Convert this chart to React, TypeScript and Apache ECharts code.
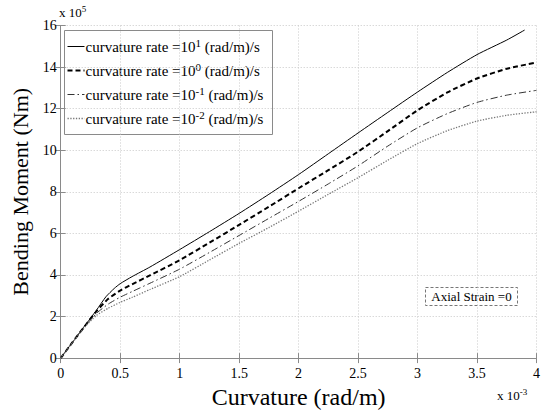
import React, { useEffect, useRef } from "react";
import * as echarts from "echarts";

// curvature in units of 1e-3 rad/m, moment in units of 1e5 Nm
const curvature = [0, 0.1, 0.2, 0.3, 0.4, 0.5, 0.6, 0.75, 1.0, 1.25, 1.5, 1.75, 2.0, 2.25, 2.5, 2.75, 3.0, 3.25, 3.5, 3.75, 4.0];
const curvatureSolid = [0, 0.1, 0.2, 0.3, 0.38, 0.45, 0.5, 0.6, 0.75, 1.0, 1.25, 1.5, 1.75, 2.0, 2.25, 2.5, 2.75, 3.0, 3.25, 3.5, 3.75, 3.9];

const rate1 = [0, 0.77, 1.54, 2.3, 2.95, 3.35, 3.58, 3.92, 4.38, 5.22, 6.08, 6.96, 7.88, 8.83, 9.83, 10.83, 11.82, 12.8, 13.74, 14.6, 15.3, 15.78];
const rate0 = [0, 0.77, 1.52, 2.25, 2.85, 3.25, 3.55, 3.98, 4.71, 5.55, 6.41, 7.28, 8.17, 9.04, 9.93, 10.92, 11.92, 12.78, 13.45, 13.92, 14.22];
const rateM1 = [0, 0.76, 1.5, 2.15, 2.6, 2.93, 3.2, 3.6, 4.28, 5.08, 5.9, 6.72, 7.54, 8.38, 9.25, 10.2, 11.08, 11.76, 12.3, 12.65, 12.88];
const rateM2 = [0, 0.75, 1.48, 2.05, 2.4, 2.68, 2.92, 3.3, 3.92, 4.72, 5.52, 6.28, 7.07, 7.88, 8.68, 9.52, 10.32, 10.94, 11.4, 11.68, 11.85];

const seriesNames = ["curvature rate =10^1 (rad/m)/s", "curvature rate =10^0 (rad/m)/s", "curvature rate =10^-1 (rad/m)/s", "curvature rate =10^-2 (rad/m)/s"];
const exponents = ["1", "0", "-1", "-2"];
const yTicks = [0, 2, 4, 6, 8, 10, 12, 14, 16];

const FONT = "'Liberation Serif', 'Times New Roman', serif";

export default function App() {
  const ref = useRef<HTMLDivElement>(null);
  useEffect(() => {
    if (!ref.current) return;
    const chart = echarts.init(ref.current, undefined, { renderer: "svg" });
    const pairs = (xs: number[], ys: number[]) => xs.map((x, i) => [x, ys[i]]);
    const axisGray = "#8a8a8a";
    const grid = { left: 60.7, right: 2.3, top: 25.5, bottom: 49.5 };
    const supRich = (size: number, supSize: number, raise: number) => ({
      t: { fontFamily: FONT, fontSize: size, color: "#000" },
      s: { fontFamily: FONT, fontSize: supSize, color: "#000", padding: [0, 0, raise, 0] },
    });
    const lineStyles = [
      { color: "#000", width: 1, type: "solid" as any },
      { color: "#000", width: 2, type: [5, 3] },
      { color: "#333", width: 1, type: [7, 3, 1.5, 3] },
      { color: "#777", width: 1.3, type: [1.3, 1.5] },
    ];
    const dashOf = (t: any) => (Array.isArray(t) ? t : null);
    const datasets = [
      pairs(curvatureSolid, rate1),
      pairs(curvature, rate0),
      pairs(curvature, rateM1),
      pairs(curvature, rateM2),
    ];
    const legendChildren: any[] = [
      {
        type: "rect",
        shape: { x: 0, y: 0, width: 208, height: 104 },
        style: { fill: "#fff", stroke: "#8a8a8a", lineWidth: 1 },
      },
    ];
    seriesNames.forEach((_, i) => {
      const cy = 16 + 24 * i;
      legendChildren.push({
        type: "line",
        shape: { x1: 3, y1: cy, x2: 20, y2: cy },
        style: {
          stroke: lineStyles[i].color,
          lineWidth: lineStyles[i].width,
          lineDash: dashOf(lineStyles[i].type),
        },
      });
      legendChildren.push({
        type: "text",
        x: 21,
        y: cy,
        style: {
          text: `{t|curvature rate =10}{s|${exponents[i]}}{t| (rad/m)/s}`,
          fontFamily: FONT,
          verticalAlign: "middle",
          rich: supRich(15, 11, 8),
        },
      });
    });
    chart.setOption({
      animation: false,
      backgroundColor: "#ffffff",
      textStyle: { fontFamily: FONT },
      grid,
      xAxis: [
        {
          type: "value",
          min: 0,
          max: 4,
          interval: 0.5,
          name: "Curvature (rad/m)",
          nameLocation: "middle",
          nameGap: 26,
          nameTextStyle: { fontFamily: FONT, fontSize: 24, color: "#000" },
          axisLine: { show: true, lineStyle: { color: axisGray, width: 1 } },
          axisTick: { show: true, inside: true, length: 5, lineStyle: { color: axisGray } },
          axisLabel: { fontFamily: FONT, fontSize: 14, color: "#000", margin: 8 },
          splitLine: { show: true, lineStyle: { color: "#c8c8c8", type: [1, 2], width: 1 } },
        },
        {
          type: "value",
          position: "top",
          min: 0,
          max: 4,
          interval: 0.5,
          axisLine: { show: true, lineStyle: { color: axisGray, width: 1 } },
          axisTick: { show: true, inside: true, length: 5, lineStyle: { color: axisGray } },
          axisLabel: { show: false },
          splitLine: { show: false },
        },
      ],
      yAxis: [
        {
          type: "value",
          min: 0,
          max: 16,
          interval: 2,
          name: "Bending Moment (Nm)",
          nameLocation: "middle",
          nameGap: 29,
          nameTextStyle: { fontFamily: FONT, fontSize: 22, color: "#000" },
          axisLine: { show: true, lineStyle: { color: axisGray, width: 1 } },
          axisTick: { show: true, inside: true, length: 5, lineStyle: { color: axisGray } },
          axisLabel: {
            fontFamily: FONT,
            fontSize: 14,
            color: "#000",
            margin: 4,
            formatter: (v: number) => (yTicks.includes(v) ? String(v) : ""),
          },
          splitLine: { show: true, lineStyle: { color: "#c8c8c8", type: [1, 2], width: 1 } },
        },
        {
          type: "value",
          position: "right",
          min: 0,
          max: 16,
          interval: 2,
          axisLine: { show: true, lineStyle: { color: axisGray, width: 1 } },
          axisTick: { show: true, inside: true, length: 5, lineStyle: { color: axisGray } },
          axisLabel: { show: false },
          splitLine: { show: false },
        },
      ],
      series: seriesNames.map((name, i) => ({
        name,
        type: "line",
        data: datasets[i],
        smooth: 0.2,
        showSymbol: false,
        symbol: "none",
        lineStyle: lineStyles[i],
        itemStyle: { color: lineStyles[i].color },
      })),
      graphic: [
        {
          type: "text",
          left: 59,
          top: 4,
          style: {
            text: "{t|x 10}{s|5}",
            fontFamily: FONT,
            rich: supRich(13, 9, 7),
          },
        },
        {
          type: "text",
          left: 497,
          top: 387,
          style: {
            text: "{t|x 10}{s|-3}",
            fontFamily: FONT,
            rich: supRich(13, 9, 7),
          },
        },
        {
          type: "group",
          left: 425,
          top: 287,
          children: [
            {
              type: "rect",
              shape: { x: 0, y: 0, width: 92, height: 18 },
              style: { fill: "#fff", stroke: "#777", lineWidth: 1, lineDash: [3, 2] },
            },
            {
              type: "text",
              x: 46,
              y: 9,
              style: {
                text: "Axial Strain =0",
                fontFamily: FONT,
                fontSize: 13,
                fill: "#000",
                align: "center",
                verticalAlign: "middle",
              },
            },
          ],
        },
        {
          type: "group",
          left: 64,
          top: 30,
          children: legendChildren,
        },
      ],
    });
    return () => chart.dispose();
  }, []);
  return <div ref={ref} style={{ width: 543, height: 414, position: "absolute", left: 0, top: 0 }} />;
}
